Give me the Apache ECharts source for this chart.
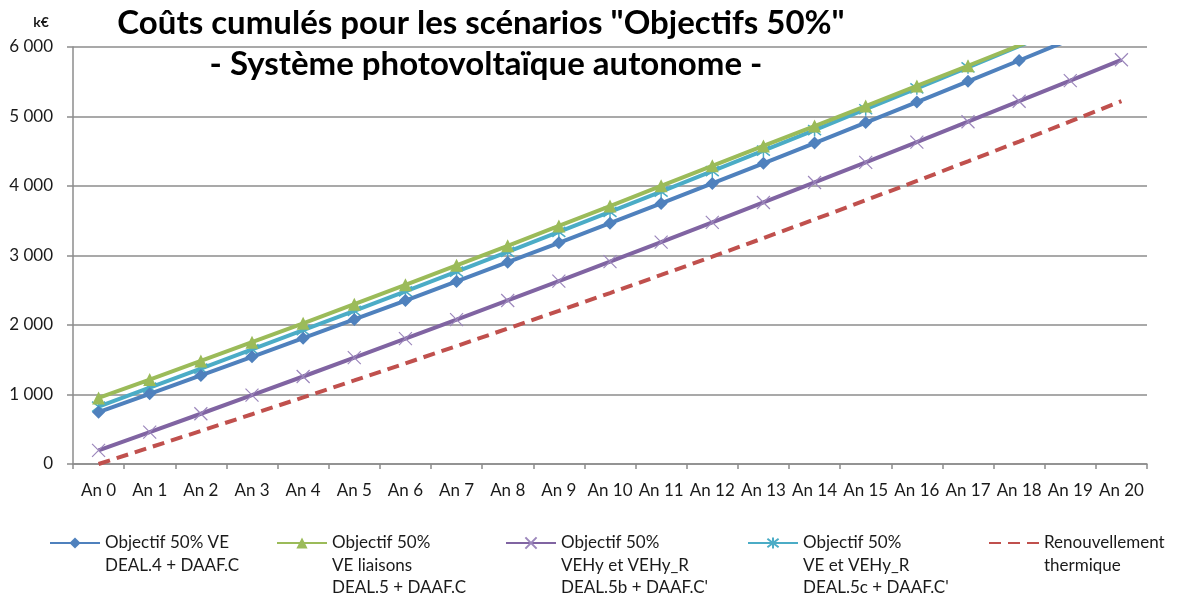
<!DOCTYPE html>
<html>
<head>
<meta charset="utf-8">
<script src="https://cdn.jsdelivr.net/npm/echarts@6/dist/echarts.min.js"></script>
<style>
  html, body { margin: 0; padding: 0; background: #fff; }
  #chart { width: 1191px; height: 598px; }
</style>
</head>
<body>
<div id="chart"></div>
<script>
// Years on the horizontal axis
const years = ['An 0','An 1','An 2','An 3','An 4','An 5','An 6','An 7','An 8','An 9','An 10',
  'An 11','An 12','An 13','An 14','An 15','An 16','An 17','An 18','An 19','An 20'];

// Cumulated costs (k€) per scenario
const objVE = [745, 1010, 1275, 1542, 1810, 2080, 2352, 2627, 2904, 3183, 3465,
  3750, 4037, 4326, 4618, 4912, 5208, 5506, 5806, 6108, 6412];
const objVELiaisons = [950, 1215, 1483, 1753, 2025, 2300, 2578, 2858, 3140, 3425, 3712,
  4002, 4290, 4577, 4863, 5150, 5440, 5730, 6022, 6316, 6612];
const objVEHy = [195, 458, 723, 990, 1259, 1530, 1803, 2077, 2353, 2631, 2911,
  3193, 3477, 3763, 4051, 4341, 4632, 4925, 5220, 5517, 5816];
const objVEetVEHy = [825, 1098, 1372, 1648, 1925, 2204, 2485, 2768, 3053, 3340, 3629,
  3920, 4213, 4508, 4805, 5104, 5405, 5708, 6013, 6320, 6629];
const renouvThermique = [0, 237, 476, 716, 958, 1202, 1448, 1697, 1949, 2203, 2460,
  2720, 2983, 3250, 3520, 3795, 4073, 4355, 4640, 4930, 5222];

// Series labels, one string per legend line
const seriesLabels = [
  ['Objectif 50% VE', 'DEAL.4 + DAAF.C'],
  ['Objectif 50%', 'VE liaisons', 'DEAL.5 + DAAF.C'],
  ['Objectif 50%', 'VEHy et VEHy_R', "DEAL.5b + DAAF.C'"],
  ['Objectif 50%', 'VE et VEHy_R', "DEAL.5c + DAAF.C'"],
  ['Renouvellement', 'thermique']
];
const seriesNames = seriesLabels.map(l => l.join(' '));
const yTicks = [0, 1000, 2000, 3000, 4000, 5000, 6000];

const colors = ['#4F81BD', '#9BBB59', '#8064A2', '#4BACC6', '#C0504D'];
const FONT = 'Lato, "Open Sans", sans-serif';
const TEXT = '#1a1a1a';

const crossPath = 'path://M0,0L10,10M10,0L0,10';
const starPath = 'path://M0,0L10,10M10,0L0,10M5,-1.5L5,11.5';

function lineSeries(i, data, symbol, symbolSize, extra) {
  return Object.assign({
    name: seriesNames[i],
    type: 'line',
    data: data,
    symbol: symbol,
    symbolSize: symbolSize,
    showSymbol: symbol !== 'none',
    clip: true,
    z: 10 - i,
    lineStyle: { color: colors[i], width: 4 },
    itemStyle: { color: colors[i] }
  }, extra || {});
}

const series = [
  lineSeries(0, objVE, 'diamond', 13),
  lineSeries(1, objVELiaisons, 'triangle', 13),
  lineSeries(2, objVEHy, crossPath, 13, {
    itemStyle: { color: 'rgba(0,0,0,0)', borderColor: '#9C87BC', borderWidth: 1.2 }
  }),
  lineSeries(3, objVEetVEHy, starPath, 13, {
    itemStyle: { color: 'rgba(0,0,0,0)', borderColor: '#4BACC6', borderWidth: 1.5 }
  }),
  lineSeries(4, renouvThermique, 'none', 0, {
    lineStyle: { color: colors[4], width: 4, type: [12, 7] }
  })
];

// Legend row: icons from the legend component, wrapped labels beside them
const legendIconLeft = [49, 276, 505, 747, 988];
const legendIconWidth = 50;
const legendLineY = 543;
const legendLineStep = 22.5;

const legends = seriesNames.map((n, i) => {
  const leg = {
    data: [n],
    left: legendIconLeft[i],
    top: legendLineY - 7,
    padding: 0,
    itemWidth: legendIconWidth,
    itemHeight: 14,
    selectedMode: false,
    formatter: () => '',
    textStyle: { fontSize: 1 }
  };
  if (i === 4) leg.itemStyle = { color: 'rgba(0,0,0,0)', borderWidth: 0 };
  return leg;
});

const legendTexts = [];
seriesLabels.forEach((lines, i) => {
  lines.forEach((t, k) => {
    legendTexts.push({
      type: 'text',
      x: legendIconLeft[i] + legendIconWidth + 6,
      y: legendLineY + k * legendLineStep,
      style: { text: t, font: '17px ' + FONT, fill: TEXT, textVerticalAlign: 'middle' }
    });
  });
});

const chart = echarts.init(document.getElementById('chart'), null, { renderer: 'canvas' });
chart.setOption({
  animation: false,
  backgroundColor: '#fff',
  color: colors,
  grid: { left: 73, right: 44, top: 47, bottom: 134 },
  legend: legends,
  graphic: [
    { type: 'text', x: 481, y: 23, style: {
        text: 'Coûts cumulés pour les scénarios "Objectifs 50%"',
        font: 'bold 33px ' + FONT, fill: '#000', textAlign: 'center', textVerticalAlign: 'middle' } },
    { type: 'text', x: 486, y: 64, style: {
        text: '- Système photovoltaïque autonome -',
        font: 'bold 33px ' + FONT, fill: '#000', textAlign: 'center', textVerticalAlign: 'middle' } },
    { type: 'text', x: 41, y: 22, style: {
        text: 'k€', font: 'bold 14px ' + FONT, fill: TEXT, textAlign: 'center', textVerticalAlign: 'middle' } }
  ].concat(legendTexts),
  xAxis: {
    type: 'category',
    data: years,
    boundaryGap: true,
    axisLine: { lineStyle: { color: '#8c8c8c', width: 1.5 } },
    axisTick: { show: true, length: 5, lineStyle: { color: '#8c8c8c', width: 1.5 } },
    axisLabel: { fontFamily: FONT, fontSize: 17, color: TEXT, margin: 18, interval: 0 }
  },
  yAxis: {
    type: 'value',
    min: yTicks[0],
    max: yTicks[yTicks.length - 1],
    interval: 1000,
    axisLine: { show: true, lineStyle: { color: '#8c8c8c', width: 1.5 } },
    axisTick: { show: true, length: 6, lineStyle: { color: '#8c8c8c', width: 1.5 } },
    splitLine: { lineStyle: { color: '#8c8c8c', width: 1.5 } },
    axisLabel: {
      fontFamily: FONT, fontSize: 17, color: TEXT, margin: 20,
      formatter: v => String(v).replace(/\B(?=(\d{3})+(?!\d))/g, ' ')
    }
  },
  series: series
});
</script>
</body>
</html>
